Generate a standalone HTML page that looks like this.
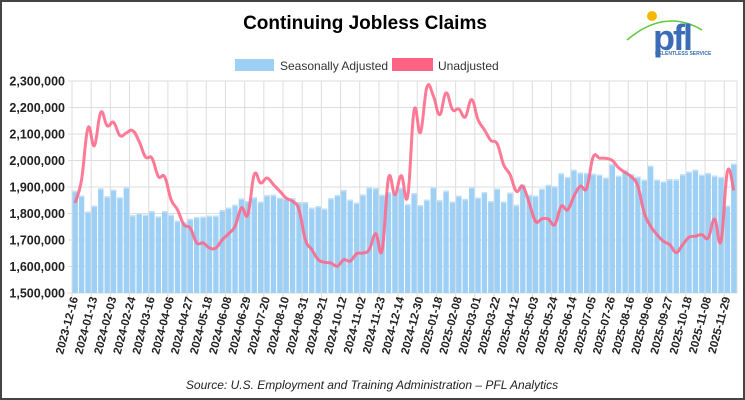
<!DOCTYPE html>
<html><head><meta charset="utf-8"><style>
html,body{margin:0;padding:0;background:#fff}
#wrap{position:relative;width:745px;height:400px;box-sizing:border-box;border:2px solid #444;background:#fff;overflow:hidden;font-family:"Liberation Sans",sans-serif}
</style></head><body><div id="wrap"><svg id="s" width="741" height="396" viewBox="2 2 741 396" xmlns="http://www.w3.org/2000/svg"></svg></div>
<script>
var sa=[1886,1868,1807,1830,1895,1865,1890,1861,1899,1794,1802,1796,1809,1789,1809,1796,1773,1767,1780,1787,1788,1792,1792,1813,1822,1833,1857,1847,
1861,1845,1870,1871,1860,1857,1858,1843,1843,1822,1828,1819,1858,1870,1889,1852,1841,1872,1899,1896,1871,1880,1877,1896,1835,1877,1832,1852,1900,1850,1886,1845,1867,1855,1899,1860,1881,1847,1894,
1845,1879,1833,1909,1871,1867,1894,1908,1903,1952,1938,1965,1955,1953,1950,1947,1936,1987,1943,1962,1949,1939,1928,1981,1928,1921,1930,1929,1948,1958,1965,1947,1953,1943,1938,1830,1988];
var un=[1840,1928,2123,2056,2182,2131,2144,2094,2104,2113,2072,2013,2009,1940,1938,1852,1814,1758,1745,1689,1689,1670,1670,1701,1724,1752,1821,1796,1947,1915,1934,1909,1884,1858,1846,1814,1701,1664,1626,1616,1613,1601,1626,1620,1648,1651,1664,1724,1661,1934,1871,1943,1865,2189,2106,2277,2245,2173,2255,2192,2194,2164,2230,2154,2116,2076,2063,1984,1947,1884,1903,1840,1770,1780,1779,1758,1827,1814,1865,1903,1896,2013,2009,2008,2000,1972,1955,1938,1903,1802,1752,1720,1695,1682,1653,1682,1710,1714,1720,1708,1779,1695,1959,1887];
var labels=["2023-12-16","2024-01-13","2024-02-03","2024-02-24","2024-03-16","2024-04-06","2024-04-27","2024-05-18","2024-06-08","2024-06-29","2024-07-20","2024-08-10","2024-08-31","2024-09-21","2024-10-12","2024-11-02","2024-11-23","2024-12-14","2024-12-30","2025-01-18","2025-02-08","2025-03-01","2025-03-22","2025-04-12","2025-05-03","2025-05-24","2025-06-14","2025-07-05","2025-07-26","2025-08-16","2025-09-06","2025-09-27","2025-10-18","2025-11-08","2025-11-29"];
var L=72,R=737,T=81,B=293,n=104,bw=(R-L)/n;
function Y(v){return B-(v-1500)/100*(B-T)/8}
function X(i){return L+(i+0.5)*bw}
var h='';
h+='<text x="365" y="29" font-size="19" font-weight="bold" text-anchor="middle" fill="#000">Continuing Jobless Claims</text>';
h+='<rect x="235" y="59" width="39" height="12" fill="#9ecff5"/><text x="280" y="70" font-size="12" fill="#333">Seasonally Adjusted</text>';
h+='<rect x="392" y="58" width="41" height="13" fill="#ff6384"/><text x="438" y="70" font-size="12" fill="#333">Unadjusted</text>';
for(var k=0;k<=8;k++){var y=T+k*(B-T)/8;h+='<line x1="'+(L-4)+'" x2="'+R+'" y1="'+y+'" y2="'+y+'" stroke="#ddd"/>';
var v=2300-k*100;h+='<text x="65" y="'+(y+4.5)+'" font-size="12.5" font-weight="bold" text-anchor="end" fill="#222">'+String(v).charAt(0)+','+String(v).slice(1)+',000</text>';}
for(var j=0;j<=35;j++){var x=L+j*3*bw;if(x>R+1)break;h+='<line x1="'+x+'" x2="'+x+'" y1="'+T+'" y2="'+(B+5)+'" stroke="#ddd"/>';}
h+='<line x1="'+R+'" x2="'+R+'" y1="'+T+'" y2="'+B+'" stroke="#ddd"/>';
for(var i=0;i<n;i++){var y=Y(sa[i]);h+='<rect x="'+(X(i)-bw*0.42)+'" y="'+y+'" width="'+(bw*0.84)+'" height="'+(B-y)+'" fill="#9ecff5"/><rect x="'+(X(i)-bw*0.42)+'" y="'+y+'" width="'+(bw*0.84)+'" height="1.5" fill="#c3e2f9"/>';}
var p='M'+X(0)+','+Y(un[0]);
for(var i=0;i<n-1;i++){var p0=i?i-1:0,p3=i+2<n?i+2:n-1;
var x1=X(i)+(X(i+1)-X(p0))*0.2,y1=Y(un[i])+(Y(un[i+1])-Y(un[p0]))*0.2,x2=X(i+1)-(X(p3)-X(i))*0.2,y2=Y(un[i+1])-(Y(un[p3])-Y(un[i]))*0.2;
p+=' C'+x1.toFixed(1)+','+y1.toFixed(1)+' '+x2.toFixed(1)+','+y2.toFixed(1)+' '+X(i+1).toFixed(1)+','+Y(un[i+1]).toFixed(1);}
h+='<path d="'+p+'" fill="none" stroke="#ff6384" stroke-opacity="0.85" stroke-width="3"/>';
for(var j=0;j<labels.length;j++){var x=X(j*3)+3;h+='<text transform="translate('+x+',298) rotate(-75)" font-size="11.5" font-weight="bold" text-anchor="end" fill="#222">'+labels[j]+'</text>';}
h+='<text x="372" y="389" font-size="12" font-style="italic" text-anchor="middle" fill="#222">Source: U.S. Employment and Training Administration – PFL Analytics</text>';
h+='<path d="M627,40 Q665,8 702,30" fill="none" stroke="#5cc93a" stroke-width="1.5"/><circle cx="652" cy="16" r="5" fill="#f5b800"/>';
h+='<text x="653" y="50" font-size="36" font-weight="bold" fill="#3a6db5" letter-spacing="-2">pfl</text>';
h+='<text x="655" y="55" font-size="5" font-weight="bold" fill="#3a6db5">RELENTLESS SERVICE</text>';
document.getElementById('s').innerHTML=h;
</script></body></html>
